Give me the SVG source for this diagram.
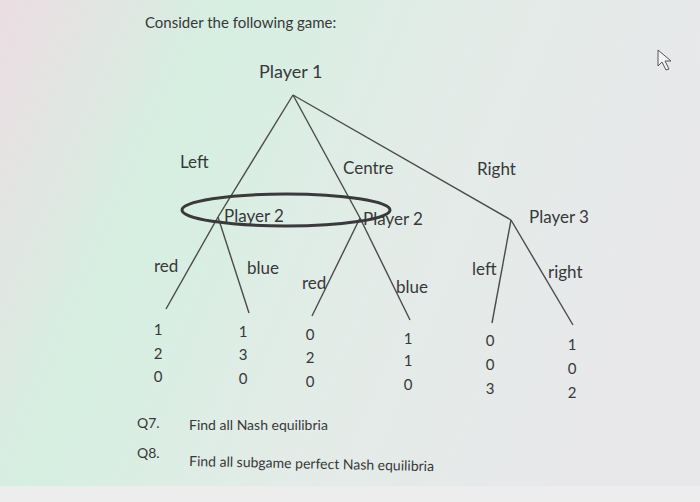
<svg xmlns="http://www.w3.org/2000/svg" width="700" height="502" viewBox="0 0 700 502">
<defs>
<linearGradient id="bg" x1="0" y1="0" x2="1" y2="0.3">
<stop offset="0" stop-color="#ecdde3"/>
<stop offset="0.3" stop-color="#d5efe1"/>
<stop offset="0.6" stop-color="#e2ece7"/>
<stop offset="1" stop-color="#e8e8ea"/>
</linearGradient>
<style>
text{font-family:Lato,"Open Sans","Liberation Sans",sans-serif;fill:#38383a}
.t{font-size:17px}
.p{font-size:15px}
.e{stroke:#4a4a4c;stroke-width:1.4;fill:none}
</style>
</defs>
<rect width="700" height="502" fill="url(#bg)"/>
<rect y="486" width="700" height="16" fill="#ededed"/>
<text x="145" y="28" style="font-size:15px">Consider the following game:</text>
<text x="259" y="78" style="font-size:18px">Player 1</text>
<g id="connectors">
<line class="e" x1="293" y1="95" x2="218" y2="217"/>
<line class="e" x1="293" y1="95" x2="360" y2="218"/>
<line class="e" x1="293" y1="95" x2="511" y2="220"/>
<line class="e" x1="218" y1="217" x2="166" y2="309"/>
<line class="e" x1="218" y1="217" x2="249" y2="313"/>
<line class="e" x1="360" y1="218" x2="312" y2="316"/>
<line class="e" x1="360" y1="218" x2="410" y2="320"/>
<line class="e" x1="511" y1="220" x2="492" y2="323"/>
<line class="e" x1="511" y1="220" x2="573" y2="325"/>
</g>
<g id="infoset">
<ellipse cx="286" cy="210" rx="104" ry="16" fill="none" stroke="#3a3a3c" stroke-width="3"/>
</g>
<g id="move-labels">
<text x="180" y="168" class="t">Left</text>
<text x="343" y="174" class="t">Centre</text>
<text x="477" y="175" class="t">Right</text>
<text x="154" y="272" class="t">red</text>
<text x="247" y="274" class="t">blue</text>
<text x="302" y="289" class="t">red</text>
<text x="396" y="293" class="t">blue</text>
<text x="472" y="275" class="t">left</text>
<text x="548" y="278" class="t">right</text>
</g>
<g id="player2-left"><text x="224" y="222" class="t">Player 2</text></g>
<g id="player2-right"><text x="363" y="225" class="t">Player 2</text></g>
<g id="player3"><text x="529" y="223" class="t">Player 3</text></g>
<g id="payoffs" text-anchor="middle">
<g id="o1"><text x="158" y="335" class="p">1</text><text x="158" y="359" class="p">2</text><text x="158" y="382" class="p">0</text></g>
<g id="o2"><text x="243" y="337" class="p">1</text><text x="243" y="360" class="p">3</text><text x="243" y="384" class="p">0</text></g>
<g id="o3"><text x="310" y="340" class="p">0</text><text x="310" y="363" class="p">2</text><text x="310" y="387" class="p">0</text></g>
<g id="o4"><text x="408" y="344" class="p">1</text><text x="408" y="366" class="p">1</text><text x="408" y="390" class="p">0</text></g>
<g id="o5"><text x="490" y="346" class="p">0</text><text x="490" y="370" class="p">0</text><text x="490" y="394" class="p">3</text></g>
<g id="o6"><text x="572" y="350" class="p">1</text><text x="572" y="374" class="p">0</text><text x="572" y="398" class="p">2</text></g>
</g>
<text x="137" y="428" style="font-size:14px">Q7.</text>
<text x="189" y="430" style="font-size:14px">Find all Nash equilibria</text>
<text x="137" y="458" style="font-size:14px">Q8.</text>
<text x="189" y="466" style="font-size:14px" transform="rotate(1.2 189 466)">Find all subgame perfect Nash equilibria</text>
<path d="M658 50 L658 66 L662 62 L666 70 L669 69 L665 61 L671 61 Z" fill="#f4f4f4" stroke="#555" stroke-width="1"/>
</svg>
